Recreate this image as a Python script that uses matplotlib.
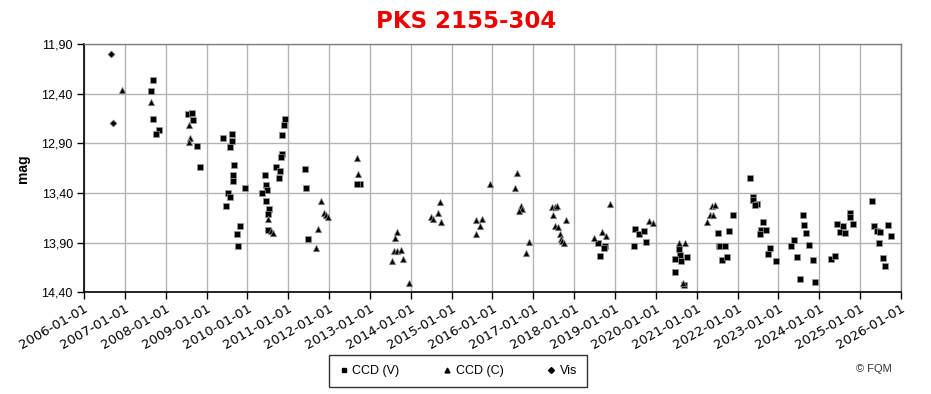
import matplotlib
matplotlib.use("Agg")
import matplotlib.pyplot as plt
from matplotlib.lines import Line2D
import numpy as np
import datetime as dt

# ---- data (decimal year, magnitude) ----
ccd_v_year = [
    2007.68, 2007.64, 2007.69, 2007.83, 2007.76,
    2008.55, 2008.64, 2008.67, 2008.76, 2008.84,
    2009.40, 2009.62, 2009.62, 2009.57, 2009.67, 2009.64, 2009.64, 2009.93,
    2009.52, 2009.57, 2009.47, 2009.82, 2009.75, 2009.77,
    2010.42, 2010.46, 2010.47, 2010.35, 2010.45, 2010.53, 2010.50, 2010.51,
    2010.92, 2010.90, 2010.85, 2010.84, 2010.82, 2010.70, 2010.79, 2010.77,
    2011.41, 2011.43, 2011.48,
    2012.76, 2012.68,
    2018.58, 2018.76, 2018.72, 2018.63,
    2019.49, 2019.59, 2019.71, 2019.76, 2019.46,
    2020.57, 2020.59, 2020.46, 2020.61, 2020.75, 2020.48, 2020.68,
    2021.51, 2021.54, 2021.57, 2021.69, 2021.62, 2021.74, 2021.79, 2021.88,
    2022.30, 2022.37, 2022.37, 2022.47, 2022.42, 2022.61, 2022.57, 2022.69,
    2022.56, 2022.79, 2022.74, 2022.94,
    2023.59, 2023.63, 2023.67, 2023.37, 2023.32, 2023.75, 2023.45, 2023.84,
    2023.53, 2023.89,
    2024.28, 2024.38, 2024.43, 2024.58, 2024.51, 2024.63, 2024.75, 2024.75,
    2024.82,
    2025.29, 2025.33, 2025.40, 2025.49, 2025.68, 2025.75, 2025.46, 2025.55,
    2025.60,
]
ccd_v_mag = [
    12.26, 12.37, 12.65, 12.76, 12.80,
    12.60, 12.59, 12.66, 12.93, 13.14,
    12.84, 12.80, 12.87, 12.94, 13.12, 13.22, 13.28, 13.35,
    13.40, 13.44, 13.53, 13.73, 13.81, 13.93,
    13.22, 13.32, 13.37, 13.40, 13.48, 13.56, 13.61, 13.77,
    12.65, 12.71, 12.81, 13.01, 13.04, 13.14, 13.18, 13.25,
    13.16, 13.35, 13.86,
    13.31, 13.31,
    13.90, 13.93, 13.95, 14.03,
    13.76, 13.81, 13.78, 13.89, 13.93,
    13.96, 14.02, 14.06, 14.08, 14.04, 14.20, 14.33,
    13.80, 13.93, 13.93, 13.93, 14.07, 14.04, 13.78, 13.62,
    13.25, 13.44, 13.47, 13.51, 13.52, 13.69, 13.77, 13.77,
    13.81, 13.95, 14.01, 14.08,
    13.62, 13.72, 13.80, 13.87, 13.93, 13.92, 14.04, 14.07,
    14.27, 14.30,
    14.06, 14.03, 13.71, 13.73, 13.79, 13.80, 13.60, 13.64,
    13.71,
    13.48, 13.73, 13.78, 13.79, 13.72, 13.83, 13.90, 14.05,
    14.13,
]
ccd_c_year = [
    2006.93, 2007.64,
    2008.58, 2008.60, 2008.58,
    2010.51, 2010.57, 2010.63,
    2011.80, 2011.88, 2011.92, 2011.98, 2011.73, 2011.67,
    2012.69, 2012.71,
    2013.66, 2013.62, 2013.59, 2013.66, 2013.76, 2013.55, 2013.82, 2013.96,
    2014.72, 2014.67, 2014.49, 2014.55, 2014.75,
    2015.60, 2015.74, 2015.69, 2015.60, 2015.94,
    2016.60, 2016.55, 2016.69, 2016.72, 2016.65, 2016.90, 2016.82,
    2017.46, 2017.52, 2017.58, 2017.48, 2017.80, 2017.52, 2017.60, 2017.65,
    2017.68, 2017.71, 2017.75,
    2018.88, 2018.68, 2018.48, 2018.78,
    2019.83, 2019.93,
    2020.57, 2020.72, 2020.66,
    2021.25, 2021.32, 2021.40, 2021.38, 2021.45,
]
ccd_c_mag = [
    12.36, 12.48,
    12.71, 12.84, 12.88,
    13.66, 13.78, 13.80,
    13.48, 13.60, 13.62, 13.64, 13.76, 13.95,
    13.05, 13.21,
    13.79, 13.85, 13.98, 13.98, 13.97, 14.08, 14.06, 14.31,
    13.49, 13.60, 13.64, 13.66, 13.69,
    13.67, 13.66, 13.73, 13.81, 13.31,
    13.20, 13.35, 13.53, 13.56, 13.58, 13.89, 14.00,
    13.54, 13.54, 13.53, 13.62, 13.67, 13.73, 13.74, 13.81,
    13.86, 13.88, 13.90,
    13.51, 13.79, 13.85, 13.83,
    13.68, 13.70,
    13.90, 13.90, 14.31,
    13.69, 13.62, 13.62, 13.53, 13.52,
]
vis_year = [2006.66, 2006.70]
vis_mag = [12.00, 12.69]

year_ticks = list(range(2006, 2027))
ytick_vals = [11.90, 12.40, 12.90, 13.40, 13.90, 14.40]


def to_date(y):
    yr = int(np.floor(y))
    start = dt.datetime(yr, 1, 1)
    end = dt.datetime(yr + 1, 1, 1)
    return start + (end - start) * (y - yr)


plt.rcParams['font.family'] = ['Liberation Sans', 'DejaVu Sans']

fig = plt.figure(figsize=(9.31, 3.94), dpi=100)
ax = fig.add_axes([84 / 931, 1 - 292.3 / 394, (901 - 84) / 931, (292.3 - 44.3) / 394])

ax.scatter([to_date(y) for y in ccd_v_year], ccd_v_mag, marker='s', s=20,
           color='black', edgecolors='#999999', linewidths=0.5, zorder=3)
ax.scatter([to_date(y) for y in ccd_c_year], ccd_c_mag, marker='^', s=22,
           color='black', edgecolors='#999999', linewidths=0.5, zorder=3)
ax.scatter([to_date(y) for y in vis_year], vis_mag, marker='D', s=13,
           color='black', edgecolors='#999999', linewidths=0.5, zorder=3)

ax.set_xlim(dt.datetime(2006, 1, 1), dt.datetime(2026, 1, 1))
ax.set_ylim(14.40, 11.90)
ax.set_xticks([dt.datetime(y, 1, 1) for y in year_ticks])
ax.set_xticklabels([f"{y}-01-01" for y in year_ticks], rotation=30,
                   ha='right', rotation_mode='anchor', fontsize=9.5,
                   family='DejaVu Sans')
ax.set_yticks(ytick_vals)
ax.set_yticklabels([f"{v:.2f}".replace('.', ',') for v in ytick_vals], fontsize=9)
ax.grid(True, color='#b4b4b4', linewidth=1.0)
ax.set_axisbelow(True)
ax.tick_params(axis='both', direction='out', length=5, width=1, colors='black', pad=3)
ax.tick_params(axis='x', pad=2)

for side in ['left', 'bottom']:
    ax.spines[side].set_color('black')
    ax.spines[side].set_linewidth(1.2)
for side in ['top', 'right']:
    ax.spines[side].set_color('#808080')
    ax.spines[side].set_linewidth(1.0)

ax.set_ylabel('mag', fontsize=10, fontweight='bold', labelpad=8)

fig.text(466 / 931, 1 - 22 / 394, 'PKS 2155-304', color='#EE0000',
         fontsize=16.5, fontweight='bold', ha='center', va='center',
         family='DejaVu Sans')

handles = [
    Line2D([], [], marker='s', color='black', linestyle='none', markersize=3.5),
    Line2D([], [], marker='^', color='black', linestyle='none', markersize=3.5),
    Line2D([], [], marker='D', color='black', linestyle='none', markersize=3),
]
leg = fig.legend(handles, ['CCD (V)', 'CCD (C)', 'Vis'], loc='center',
                 bbox_to_anchor=(458 / 931, 1 - 371 / 394), ncol=3, frameon=True,
                 fancybox=False, edgecolor='black', fontsize=9,
                 handlelength=0.8, handletextpad=0.3, columnspacing=3.4,
                 borderpad=0.8)
leg.get_frame().set_linewidth(1.0)

fig.text(874 / 931, 1 - 369 / 394, '© FQM', fontsize=8, color='#333333',
         ha='center', va='center')

fig.savefig('out.png', dpi=100)
